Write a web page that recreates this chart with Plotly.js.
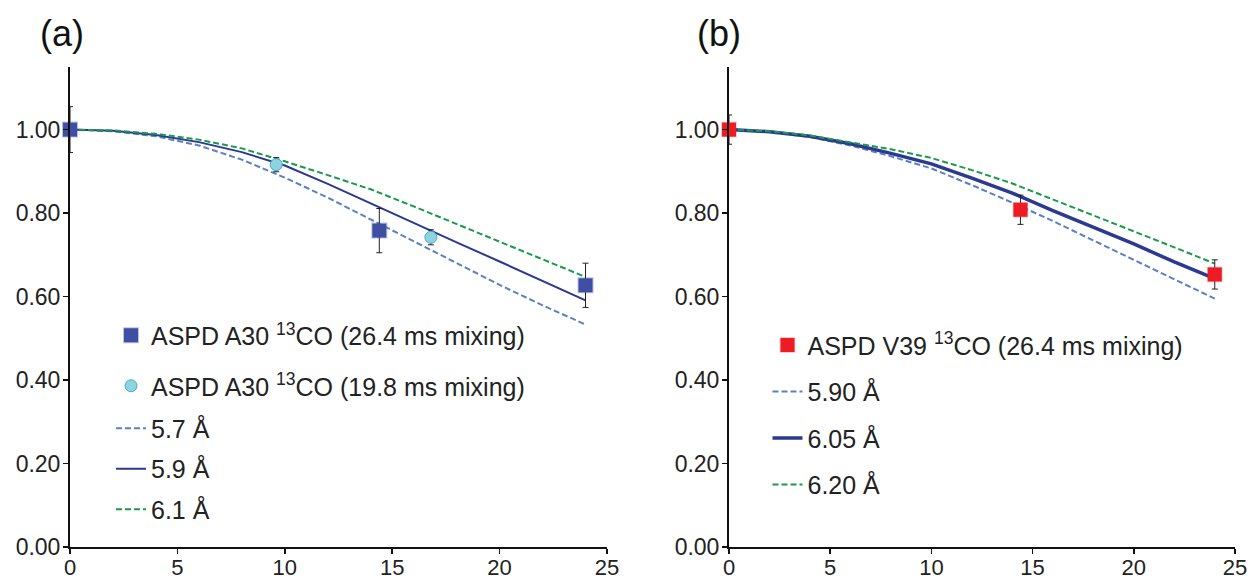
<!DOCTYPE html>
<html>
<head>
<meta charset="utf-8">
<script src="https://cdn.plot.ly/plotly-3.0.1.min.js"></script>
<style>html,body{margin:0;padding:0;background:#fff;}#chart{width:1257px;height:580px;}</style>
</head>
<body>
<div id="chart"></div>
<script>
// ---- data ----
const xCurve = [0, 2, 4, 6, 8, 10, 12, 14, 16, 18, 20, 22, 24];
// panel (a) simulated curves
const a57 = [1.000, 0.996, 0.984, 0.962, 0.928, 0.885, 0.837, 0.785, 0.733, 0.680, 0.628, 0.579, 0.533];
const a59 = [1.000, 0.997, 0.987, 0.970, 0.946, 0.914, 0.870, 0.823, 0.777, 0.730, 0.684, 0.637, 0.591];
const a61 = [1.000, 0.998, 0.990, 0.976, 0.955, 0.924, 0.891, 0.857, 0.816, 0.774, 0.731, 0.689, 0.647];
// panel (a) measurements
const aSqX = [0, 14.4, 24.0];
const aSqY = [1.000, 0.758, 0.627];
const aSqErr = [0.055, 0.053, 0.053];
const aCircX = [9.6, 16.8];
const aCircY = [0.916, 0.742];
const aCircErr = [0.017, 0.018];
// panel (b) simulated curves
const b590 = [1.000, 0.995, 0.982, 0.962, 0.936, 0.907, 0.867, 0.825, 0.781, 0.734, 0.688, 0.641, 0.595];
const b605 = [1.000, 0.995, 0.984, 0.966, 0.943, 0.918, 0.884, 0.848, 0.806, 0.766, 0.726, 0.683, 0.643];
const b620 = [1.000, 0.996, 0.986, 0.970, 0.953, 0.932, 0.903, 0.871, 0.833, 0.795, 0.757, 0.718, 0.679];
// panel (b) measurements
const bSqX = [0, 14.4, 24.0];
const bSqY = [1.000, 0.808, 0.653];
const bSqErr = [0.035, 0.035, 0.035];
// labels
const aNames = ['ASPD A30 <sup>13</sup>CO (26.4 ms mixing)', 'ASPD A30 <sup>13</sup>CO (19.8 ms mixing)', '5.7 Å', '5.9 Å', '6.1 Å'];
const bNames = ['ASPD V39 <sup>13</sup>CO (26.4 ms mixing)', '5.90 Å', '6.05 Å', '6.20 Å'];
const xTicks = [0, 5, 10, 15, 20, 25];
const yTicks = [0, 0.2, 0.4, 0.6, 0.8, 1.0];

// ---- styles ----
const cLight = '#5B80C4', cNavy = '#2B3990', cGreen = '#1A9A4A';
const cSq = '#3F4FA3', cCirc = '#8FD3E0', cRed = '#ED1C24';
const errStyle = (arr) => ({type: 'data', array: arr, visible: true, color: '#222', thickness: 1, width: 3});

const traces = [
  {x: xCurve, y: a57, mode: 'lines', name: aNames[2], line: {color: cLight, width: 2, dash: '6px,3px'}, xaxis: 'x', yaxis: 'y', legend: 'legend3', legendgroup: 'a3', legendrank: 3},
  {x: xCurve, y: a59, mode: 'lines', name: aNames[3], line: {color: cNavy, width: 2}, xaxis: 'x', yaxis: 'y', legend: 'legend3', legendgroup: 'a4', legendrank: 4},
  {x: xCurve, y: a61, mode: 'lines', name: aNames[4], line: {color: cGreen, width: 2, dash: '6px,3px'}, xaxis: 'x', yaxis: 'y', legend: 'legend3', legendgroup: 'a5', legendrank: 5},
  {x: aSqX, y: aSqY, mode: 'markers', name: aNames[0], cliponaxis: false,
   marker: {symbol: 'square', size: 14, color: cSq, line: {color: 'rgba(63,79,163,0.35)', width: 2}},
   error_y: errStyle(aSqErr), xaxis: 'x', yaxis: 'y', legend: 'legend', legendgroup: 'a1', legendrank: 1},
  {x: aCircX, y: aCircY, mode: 'markers', name: aNames[1], cliponaxis: false,
   marker: {symbol: 'circle', size: 12, color: cCirc, line: {color: '#45AFC6', width: 1}},
   error_y: errStyle(aCircErr), xaxis: 'x', yaxis: 'y', legend: 'legend', legendgroup: 'a2', legendrank: 2},

  {x: xCurve, y: b590, mode: 'lines', name: bNames[1], line: {color: cLight, width: 2, dash: '6px,3px'}, xaxis: 'x2', yaxis: 'y2', legend: 'legend2', legendgroup: 'b2', legendrank: 2},
  {x: xCurve, y: b605, mode: 'lines', name: bNames[2], line: {color: cNavy, width: 3.5}, xaxis: 'x2', yaxis: 'y2', legend: 'legend2', legendgroup: 'b3', legendrank: 3},
  {x: xCurve, y: b620, mode: 'lines', name: bNames[3], line: {color: cGreen, width: 2, dash: '6px,3px'}, xaxis: 'x2', yaxis: 'y2', legend: 'legend2', legendgroup: 'b4', legendrank: 4},
  {x: bSqX, y: bSqY, mode: 'markers', name: bNames[0], cliponaxis: false,
   marker: {symbol: 'square', size: 14, color: cRed, line: {color: 'rgba(237,28,36,0.3)', width: 1.5}},
   error_y: errStyle(bSqErr), xaxis: 'x2', yaxis: 'y2', legend: 'legend2', legendgroup: 'b1', legendrank: 1}
];

const FAM = 'Liberation Sans, Arial, sans-serif';
const tickFont = {family: FAM, size: 23, color: '#222'};
function xAx(domain) {
  return {domain: domain, range: [0, 25], tickvals: xTicks, ticktext: xTicks.map(String),
    showgrid: false, zeroline: false, showline: true, linecolor: '#111', linewidth: 2,
    ticks: 'outside', ticklen: 5, tickwidth: 1.5, tickcolor: '#111',
    tickfont: {family: FAM, size: 22, color: '#222'},
    ticklabelstandoff: -5, automargin: false, fixedrange: true};
}
function yAx(anchor) {
  return {anchor: anchor, domain: [0, 1], range: [0, 1.15], tickvals: yTicks, tickformat: '.2f',
    showgrid: false, zeroline: false, showline: true, linecolor: '#111', linewidth: 2,
    ticks: 'outside', ticklen: 5, tickwidth: 1.5, tickcolor: '#111', tickfont: tickFont,
    ticklabelstandoff: -2, automargin: false, fixedrange: true};
}
const legFont = {family: FAM, size: 25, color: '#222'};
const legBase = {xanchor: 'left', yanchor: 'top', bgcolor: 'rgba(0,0,0,0)', font: legFont, traceorder: 'grouped', itemwidth: 30};

const layout = {
  width: 1257, height: 580,
  margin: {l: 0, r: 0, t: 67, b: 33},
  paper_bgcolor: '#fff', plot_bgcolor: '#fff',
  showlegend: true,
  xaxis: Object.assign(xAx([70/1257, 607/1257]), {anchor: 'y'}),
  yaxis: yAx('x'),
  xaxis2: Object.assign(xAx([729/1257, 1235/1257]), {anchor: 'y2'}),
  yaxis2: yAx('x2'),
  legend: Object.assign({x: 111/1257, y: 0.4885, tracegroupgap: 15}, legBase),
  legend3: Object.assign({x: 111/1257, y: 0.295, tracegroupgap: 5}, legBase),
  legend2: Object.assign({x: 767.5/1257, y: 0.468, tracegroupgap: 11}, legBase),
  annotations: [
    {text: '(a)', xref: 'paper', yref: 'paper', x: 62/1257, y: (547-33)/480, xanchor: 'center', yanchor: 'middle',
     showarrow: false, font: {family: FAM, size: 36, color: '#111'}},
    {text: '(b)', xref: 'paper', yref: 'paper', x: 719/1257, y: (547-33)/480, xanchor: 'center', yanchor: 'middle',
     showarrow: false, font: {family: FAM, size: 36, color: '#111'}}
  ]
};

Plotly.newPlot('chart', traces, layout, {staticPlot: true, displayModeBar: false});
</script>
</body>
</html>
